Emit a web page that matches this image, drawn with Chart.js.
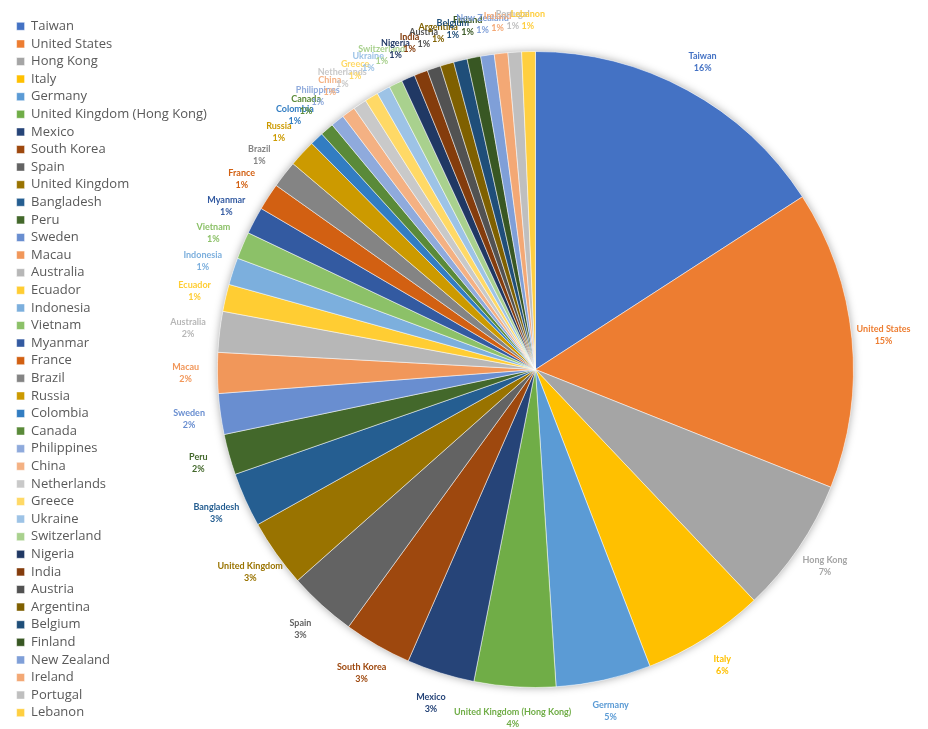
<!DOCTYPE html>
<html>
<head>
<meta charset="utf-8">
<script src="https://cdn.jsdelivr.net/npm/chart.js@4.4.0/dist/chart.umd.min.js"></script>
<style>
  html, body { margin: 0; padding: 0; background: #fff; }
  #wrap { width: 928px; height: 729px; }
</style>
</head>
<body>
<div id="wrap"><canvas id="pie-chart" width="928" height="729"></canvas></div>
<script>
const countries = [
  'Taiwan', 'United States', 'Hong Kong', 'Italy', 'Germany',
  'United Kingdom (Hong Kong)', 'Mexico', 'South Korea', 'Spain', 'United Kingdom',
  'Bangladesh', 'Peru', 'Sweden', 'Macau', 'Australia',
  'Ecuador', 'Indonesia', 'Vietnam', 'Myanmar', 'France',
  'Brazil', 'Russia', 'Colombia', 'Canada', 'Philippines',
  'China', 'Netherlands', 'Greece', 'Ukraine', 'Switzerland',
  'Nigeria', 'India', 'Austria', 'Argentina', 'Belgium',
  'Finland', 'New Zealand', 'Ireland', 'Portugal', 'Lebanon'
];

const counts = [
  23, 22, 10, 9, 7,
  6, 5, 5, 5, 5,
  4, 3, 3, 3, 3,
  2, 2, 2, 2, 2,
  2, 2, 1, 1, 1,
  1, 1, 1, 1, 1,
  1, 1, 1, 1, 1,
  1, 1, 1, 1, 1
];

const sliceColors = [
  '#4472C4', '#ED7D31', '#A5A5A5', '#FFC000', '#5B9BD5',
  '#70AD47', '#264478', '#9E480E', '#636363', '#997300',
  '#255E91', '#43682B', '#698ED0', '#F1975A', '#B7B7B7',
  '#FFCD33', '#7CAFDD', '#8CC168', '#335AA1', '#D26012',
  '#848484', '#CC9A00', '#327DC2', '#5A8A39', '#8FAADC',
  '#F4B183', '#C9C9C9', '#FFD966', '#9DC3E6', '#A9D18E',
  '#203864', '#843C0C', '#525252', '#7F6000', '#1F4E79',
  '#385723', '#7F9FD8', '#F3A875', '#BFBFBF', '#FFCF40'
];

const total = counts.reduce((a, b) => a + b, 0);

// soft shadow round the pie, like the Office default style
const pieShadow = {
  id: 'pieShadow',
  beforeDatasetsDraw(chart) {
    const arc = chart.getDatasetMeta(0).data[0];
    if (!arc) return;
    const ctx = chart.ctx;
    ctx.save();
    ctx.shadowColor = 'rgba(0, 0, 0, 0.35)';
    ctx.shadowBlur = 8;
    ctx.fillStyle = '#fff';
    ctx.beginPath();
    ctx.arc(arc.x, arc.y, arc.outerRadius, 0, Math.PI * 2);
    ctx.fill();
    ctx.restore();
  }
};

// name + percent outside each slice, in the slice colour
const outsideLabels = {
  id: 'outsideLabels',
  afterDatasetsDraw(chart) {
    const ctx = chart.ctx;
    const meta = chart.getDatasetMeta(0);
    ctx.save();
    ctx.font = 'bold 9px Lato';
    ctx.textAlign = 'center';
    ctx.textBaseline = 'middle';
    meta.data.forEach((arc, i) => {
      const mid = (arc.startAngle + arc.endAngle) / 2;
      const dist = arc.outerRadius * 1.1;
      const x = arc.x + Math.cos(mid) * dist;
      const y = arc.y + Math.sin(mid) * dist;
      const pct = Math.round(counts[i] / total * 100) + '%';
      ctx.fillStyle = sliceColors[i];
      ctx.fillText(countries[i], x, y - 6);
      ctx.fillText(pct, x, y + 6);
    });
    ctx.restore();
  }
};

const ctx = document.getElementById('pie-chart').getContext('2d');
new Chart(ctx, {
  type: 'pie',
  data: {
    labels: countries,
    datasets: [{
      data: counts,
      backgroundColor: sliceColors,
      borderColor: '#ffffff',
      borderWidth: 0.5,
      radius: 318
    }]
  },
  options: {
    responsive: false,
    animation: false,
    devicePixelRatio: 1,
    layout: {
      padding: { left: 12, top: 10, right: 74, bottom: 0 }
    },
    plugins: {
      legend: {
        position: 'left',
        labels: {
          boxWidth: 8,
          boxHeight: 8,
          padding: 4.6,
          color: '#595959',
          font: { family: 'Open Sans', size: 13 }
        }
      },
      tooltip: { enabled: false }
    }
  },
  plugins: [pieShadow, outsideLabels]
});
</script>
</body>
</html>
